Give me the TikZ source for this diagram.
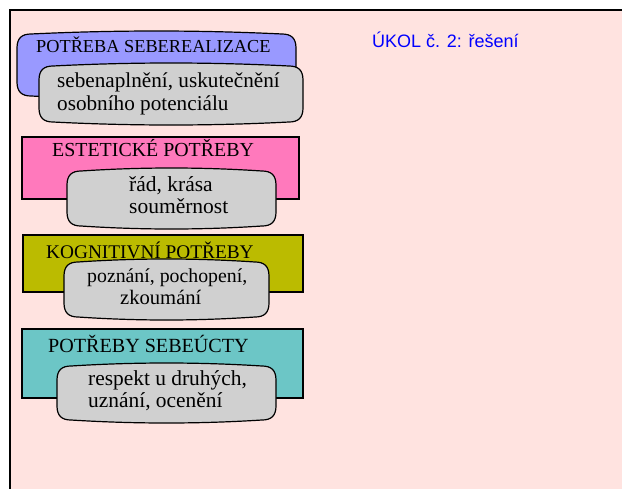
\documentclass[tikz,border=0pt]{standalone}
\usepackage{fontspec}
\setmainfont{Liberation Serif}
\newfontfamily\arialf{Liberation Sans}
\definecolor{bgpink}{RGB}{255,227,224}
\definecolor{blueshape}{RGB}{153,153,255}
\definecolor{hotpink}{RGB}{255,121,188}
\definecolor{olivebox}{RGB}{187,187,0}
\definecolor{tealbox}{RGB}{108,198,198}
\definecolor{graybox}{RGB}{208,208,208}
\definecolor{titleblue}{RGB}{0,0,255}
\newcommand\capsuleshape[5]{%
  \pgfmathsetmacro\xAcap{#1}\pgfmathsetmacro\yAcap{#2}%
  \pgfmathsetmacro\xBcap{#3}\pgfmathsetmacro\yBcap{#4}%
  \pgfmathsetmacro\thirdcap{(\xBcap-\xAcap-28)/3}%
  \filldraw[capsule,fill=#5]
    (\xAcap,{\yAcap+14})
    .. controls (\xAcap,{\yAcap+4}) and ({\xAcap+5},\yAcap) .. ({\xAcap+14},\yAcap)
    .. controls ({\xAcap+14+\thirdcap},{\yAcap-4}) and ({\xBcap-14-\thirdcap},{\yAcap-4}) .. ({\xBcap-14},\yAcap)
    .. controls ({\xBcap-5},\yAcap) and (\xBcap,{\yAcap+4}) .. (\xBcap,{\yAcap+14})
    -- (\xBcap,{\yBcap-14})
    .. controls (\xBcap,{\yBcap-4}) and ({\xBcap-5},\yBcap) .. ({\xBcap-14},\yBcap)
    .. controls ({\xBcap-14-\thirdcap},{\yBcap+4}) and ({\xAcap+14+\thirdcap},{\yBcap+4}) .. ({\xAcap+14},\yBcap)
    .. controls ({\xAcap+5},\yBcap) and (\xAcap,{\yBcap-4}) .. (\xAcap,{\yBcap-14})
    -- cycle;}
\tikzset{
  capsule/.style={draw=black, line width=1.2pt},
  rectbox/.style={draw=black, line width=1.2pt, inner sep=0pt, outer sep=0pt, anchor=north west},
  head/.style={anchor=base west, inner sep=0pt},
  body/.style={anchor=base west, inner sep=0pt},
}
\begin{document}
\begin{tikzpicture}[x=1pt,y=-1pt]
\useasboundingbox (0,0) rectangle (622,488);
\fill[white] (0,0) rectangle (622,488);
\begin{scope}
\clip (0,0) rectangle (622,488);
\filldraw[fill=bgpink, draw=black, line width=2.5pt] (10,10) rectangle (640,500);
\end{scope}
\node[anchor=base west, inner sep=0pt, text=titleblue, font=\arialf\fontsize{18}{20}\selectfont] (ukol) at (372,47) {ÚKOL č. 2: řešení};
% level 1
\capsuleshape{17}{34}{296}{96}{blueshape}
\node[head, font=\fontsize{18.3}{22}\selectfont] (h1) at (36,52) {POTŘEBA SEBEREALIZACE};
\capsuleshape{39}{66}{303}{122}{graybox}
\node[body, font=\fontsize{21.2}{23}\selectfont] (b1a) at (57,87) {sebenaplnění, uskutečnění};
\node[body, font=\fontsize{21.2}{23}\selectfont] (b1b) at (57,110) {osobního potenciálu};
% level 2
\node[rectbox, fill=hotpink, minimum width=277pt, minimum height=62pt] (r2) at (22,137) {};
\node[head, font=\fontsize{19.9}{22}\selectfont] (h2) at (52,156) {ESTETICKÉ POTŘEBY};
\capsuleshape{67}{171}{276}{226}{graybox}
\node[body, font=\fontsize{21.5}{23}\selectfont] (b2a) at (129,191) {řád, krása};
\node[body, font=\fontsize{21.5}{23}\selectfont] (b2b) at (129,213) {souměrnost};
% level 3
\node[rectbox, fill=olivebox, minimum width=280pt, minimum height=57pt] (r3) at (23,235) {};
\node[head, font=\fontsize{19.3}{22}\selectfont] (h3) at (46,258) {KOGNITIVNÍ POTŘEBY};
\capsuleshape{64}{262}{269}{317}{graybox}
\node[body, font=\fontsize{19.8}{23}\selectfont] (b3a) at (87,282) {poznání, pochopení,};
\node[body, font=\fontsize{20.6}{23}\selectfont] (b3b) at (120,304) {zkoumání};
% level 4
\node[rectbox, fill=tealbox, minimum width=281pt, minimum height=69pt] (r4) at (22,329) {};
\node[head, font=\fontsize{20.1}{22}\selectfont] (h4) at (48,352) {POTŘEBY SEBEÚCTY};
\capsuleshape{57}{366}{276}{420}{graybox}
\node[body, font=\fontsize{21.4}{23}\selectfont] (b4a) at (88,385) {respekt u druhých,};
\node[body, font=\fontsize{21.4}{23}\selectfont] (b4b) at (88,407) {uznání, ocenění};
\end{tikzpicture}
\end{document}
